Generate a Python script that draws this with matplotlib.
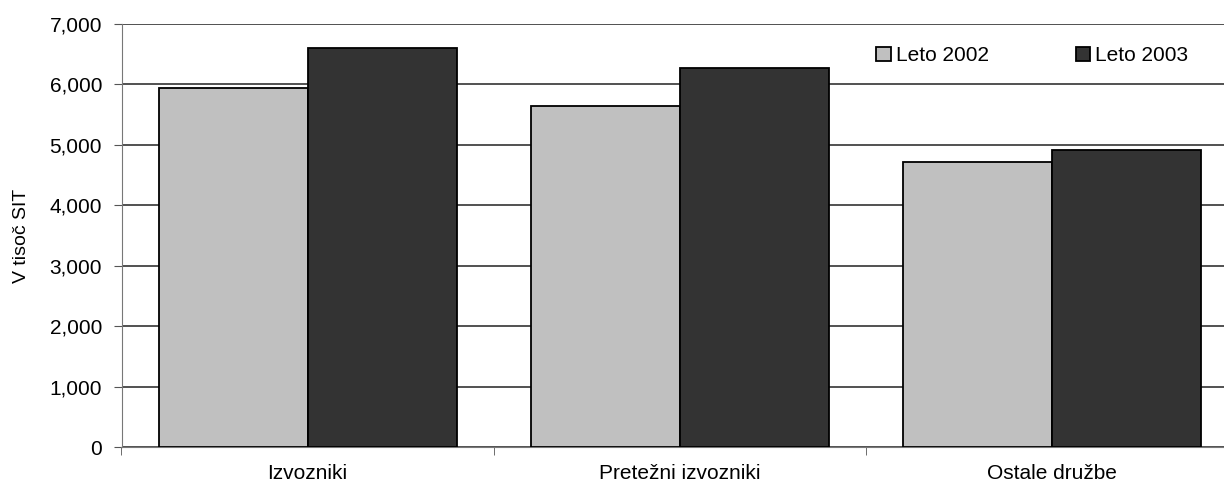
import numpy as np
import matplotlib.pyplot as plt
from matplotlib.ticker import FuncFormatter

kategorije = ["Izvozniki", "Pretežni izvozniki", "Ostale družbe"]
leto_2002 = [5940, 5640, 4715]
leto_2003 = [6610, 6275, 4910]
serije = ["Leto 2002", "Leto 2003"]

plt.rcParams["font.family"] = ["Liberation Sans", "DejaVu Sans"]
plt.rcParams["font.size"] = 15

fig = plt.figure(figsize=(12.24, 4.86), dpi=100)
# os sega malo čez desni rob slike, kot v izvirniku
ax = fig.add_axes([121.5 / 1224, 39 / 486, 1117 / 1224, 423 / 486])

x = np.arange(len(kategorije))
w = 0.4
ax.bar(x - w / 2, leto_2002, width=w, color="#c0c0c0", edgecolor="black", linewidth=1.3, label=serije[0], zorder=3)
ax.bar(x + w / 2, leto_2003, width=w, color="#333333", edgecolor="black", linewidth=1.3, label=serije[1], zorder=3)

ax.set_xlim(-0.5, 2.5)
ax.set_ylim(0, 7000)
ax.set_yticks(np.arange(0, 7001, 1000))
ax.yaxis.set_major_formatter(FuncFormatter(lambda v, p: f"{v:,.0f}"))
ax.yaxis.grid(True, color="#222222", linewidth=1.1, zorder=0)

ax.set_xticks(x)
ax.set_xticklabels(kategorije)
ax.tick_params(axis="x", length=0, pad=12)
ax.set_xticks([-0.5, 0.5, 1.5, 2.5], minor=True)
ax.tick_params(axis="x", which="minor", length=6, color="#555555")
ax.tick_params(axis="y", length=6, color="#555555", pad=8)

for s in ["top", "right"]:
    ax.spines[s].set_visible(False)
ax.spines["left"].set_color("#777777")
ax.spines["bottom"].set_color("#777777")

ax.set_ylabel("V tisoč SIT", fontsize=14, labelpad=14)

ax.legend(loc="center left", bbox_to_anchor=(0.659, 0.925), ncol=2, frameon=False,
          handlelength=0.7, handleheight=0.7, handletextpad=0.25, columnspacing=4.15)

fig.savefig("out.png", dpi=100)
